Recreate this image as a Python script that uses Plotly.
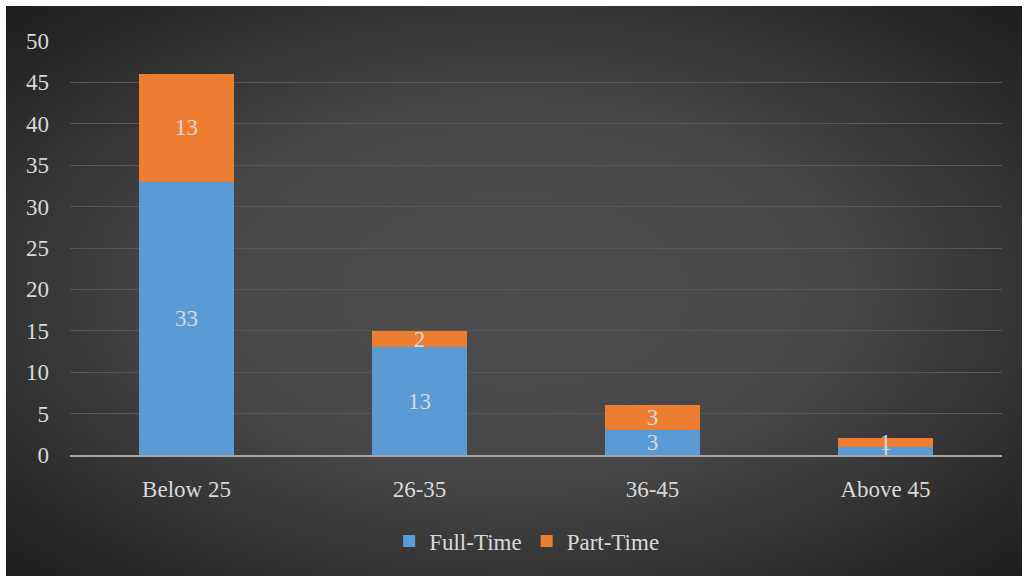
import base64
import plotly.graph_objects as go

categories = ["Below 25", "26-35", "36-45", "Above 45"]
full_time = [33, 13, 3, 1]
part_time = [13, 2, 3, 1]
y_ticks = [0, 5, 10, 15, 20, 25, 30, 35, 40, 45, 50]

W, H = 1024, 579
L, R, T, B = 70, 22, 41, 124
pw, ph = W - L - R, H - T - B

svg = (
    '<svg xmlns="http://www.w3.org/2000/svg" width="1016" height="570" viewBox="0 0 1016 570" preserveAspectRatio="none">'
    '<defs><radialGradient id="g" cx="0.5" cy="0.5" r="0.72">'
    '<stop offset="0" stop-color="#4d4d4d"/><stop offset="0.45" stop-color="#474747"/>'
    '<stop offset="1" stop-color="#1c1c1c"/></radialGradient></defs>'
    '<rect width="1016" height="570" fill="url(#g)"/></svg>'
)
src = "data:image/svg+xml;base64," + base64.b64encode(svg.encode()).decode()

font = dict(family="Liberation Serif, Times New Roman, serif", size=23, color="#d9d9d9")

fig = go.Figure()
fig.add_bar(x=categories, y=full_time, name="Full-Time", marker=dict(color="#5b9bd5", line=dict(width=0)),
            text=full_time, textposition="inside", insidetextanchor="middle", constraintext="none",
            textangle=0, textfont=font)
fig.add_bar(x=categories, y=part_time, name="Part-Time", marker=dict(color="#ed7d31", line=dict(width=0)),
            text=part_time, textposition="inside", insidetextanchor="middle", constraintext="none",
            textangle=0, textfont=font)

fig.update_layout(
    width=W, height=H, barmode="stack", bargap=0.59,
    margin=dict(l=L, r=R, t=T, b=B),
    paper_bgcolor="white", plot_bgcolor="rgba(0,0,0,0)",
    font=font,
    images=[dict(source=src, xref="paper", yref="paper",
                 x=(6 - L) / pw, y=(H - B - 6) / ph, sizex=1016 / pw, sizey=570 / ph,
                 xanchor="left", yanchor="top", sizing="stretch", layer="below")],
    legend=dict(orientation="h", x=0.49, xanchor="center", y=(H - B - 541) / ph, yanchor="middle",
                font=font, bgcolor="rgba(0,0,0,0)", traceorder="normal", itemwidth=30),
    showlegend=True,
)
fig.update_yaxes(range=[0, 50], tickvals=y_ticks, showgrid=True, gridcolor="#575757", gridwidth=1,
                 zeroline=False, showline=False, ticks="", ticklabelstandoff=20, tickfont=font)
fig.update_xaxes(showline=True, linecolor="#a6a6a6", linewidth=2, ticks="", ticklabelstandoff=12,
                 tickfont=font, showgrid=False)

fig.write_html("out.html")
